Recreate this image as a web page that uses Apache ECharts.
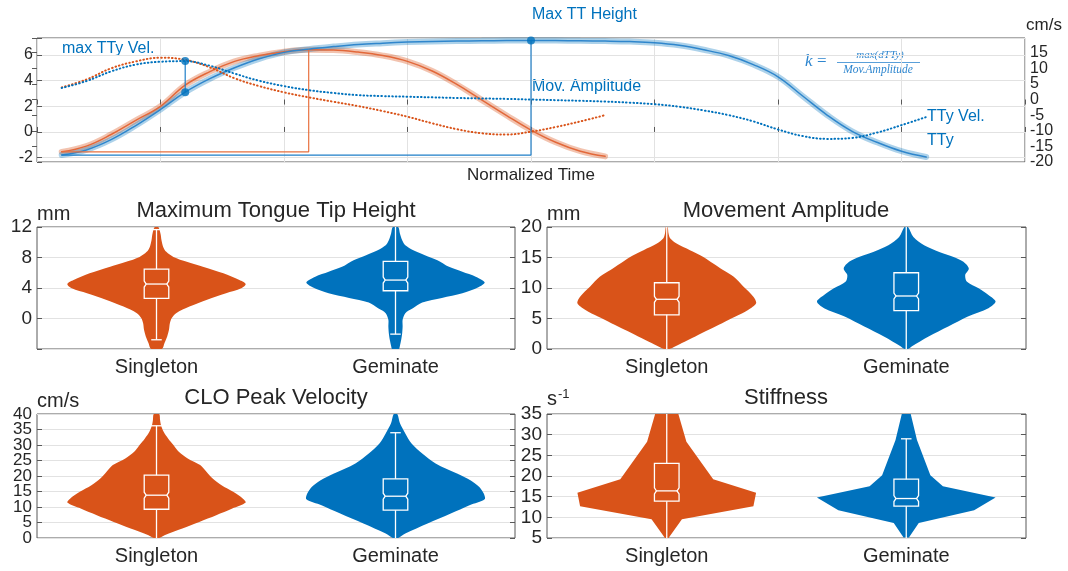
<!DOCTYPE html>
<html>
<head>
<meta charset="utf-8">
<script src="https://cdn.jsdelivr.net/npm/echarts@6/dist/echarts.min.js"></script>
<style>html,body{margin:0;padding:0;background:#fff}#c{width:1068px;height:571px}</style>
</head>
<body>
<div id="c"></div>
<script>
// ---------------- DATA ----------------
const categories = ['Singleton', 'Geminate'];

// Top panel: normalized time samples
const timeGeminate = [0.025,0.05,0.075,0.1,0.125,0.15,0.175,0.2,0.225,0.25,0.275,0.3,0.325,0.35,0.375,0.4,0.425,0.45,0.475,0.5,0.525,0.55,0.575,0.6,0.625,0.65,0.675,0.7,0.725,0.75,0.775,0.8,0.825,0.85,0.875,0.9];
const ttyGeminate = [-1.8,-1.4,-0.6,0.5,1.75,3.1,4.15,5.0,5.7,6.2,6.45,6.65,6.82,6.92,7.0,7.05,7.08,7.1,7.12,7.13,7.12,7.1,7.08,7.04,6.95,6.75,6.4,5.95,5.25,4.3,2.8,1.3,0.05,-0.8,-1.5,-1.95];
const velGeminate = [3.7,5.9,9.0,11.2,12.1,12.3,10.8,8.3,6.0,4.3,3.0,2.1,1.4,1.1,0.9,0.7,0.5,0.35,0.2,0.0,-0.2,-0.4,-0.65,-1.0,-1.5,-2.3,-3.5,-5.0,-7.0,-9.6,-11.7,-12.6,-12.3,-10.6,-8.2,-5.6];

const timeSingleton = [0.025,0.05,0.075,0.1,0.125,0.15,0.175,0.2,0.225,0.25,0.275,0.3,0.325,0.35,0.375,0.4,0.425,0.45,0.475,0.5,0.525,0.55,0.575];
const ttySingleton = [-1.55,-1.1,-0.2,0.9,2.0,3.65,4.7,5.5,5.95,6.25,6.4,6.38,6.22,5.95,5.5,4.75,3.7,2.5,1.3,0.15,-0.8,-1.5,-1.9];
const velSingleton = [3.9,6.4,10.0,12.2,13.4,12.7,10.3,6.8,4.3,2.3,0.7,-0.7,-2.1,-3.7,-5.5,-7.6,-9.5,-10.8,-11.2,-10.3,-8.8,-7.0,-5.0];

// Violin profiles: value levels (top -> bottom) and normalized density (max = 1)
const heightSingletonLevels = [12,11.13,10.26,9.39,8.74,8.08,7.43,6.78,5.92,5.04,4.52,3.96,3.31,2.43,1.56,0.69,0.04,-0.61,-1.49,-2.36,-3.22,-4];
const heightSingletonDensity = [0.02,0.045,0.056,0.075,0.11,0.19,0.34,0.52,0.75,0.93,1.0,0.95,0.78,0.56,0.37,0.22,0.17,0.15,0.14,0.12,0.09,0.06];
const heightGeminateLevels = [12,11.13,10.26,9.61,8.96,8.3,7.65,6.78,6.13,5.48,4.74,4.09,3.31,2.7,2.1,1.3,0.7,-0.18,-1.05,-1.92,-2.79,-3.66,-4];
const heightGeminateDensity = [0.03,0.05,0.075,0.11,0.2,0.33,0.47,0.6,0.75,0.9,1.0,0.93,0.75,0.52,0.3,0.19,0.11,0.08,0.08,0.075,0.064,0.048,0.037];

const ampSingletonLevels = [20,18.92,18.1,17.29,16.2,15.1,14.03,12.94,11.85,10.21,8.58,7.5,6.41,5.32,4.24,3.15,2.06,0.98,0.16,0];
const ampSingletonDensity = [0.01,0.02,0.04,0.11,0.26,0.41,0.52,0.63,0.75,0.86,0.97,1.0,0.91,0.77,0.62,0.47,0.32,0.17,0.06,0.03];
const ampGeminateLevels = [20,18.37,17.01,15.92,15.1,14.29,13.2,12.12,11.03,9.95,8.86,7.77,6.69,5.32,3.69,2.06,0.42,0];
const ampGeminateDensity = [0.02,0.08,0.2,0.37,0.53,0.64,0.7,0.66,0.68,0.81,0.92,1.0,0.92,0.69,0.47,0.25,0.06,0.02];

const peakVelSingletonLevels = [40,38.06,36.44,34.28,32.13,29.98,27.82,25.67,23.51,21.36,19.2,17.0,14.9,12.7,11.44,9.5,7.34,5.19,3.03,0.87,0];
const peakVelSingletonDensity = [0.03,0.04,0.05,0.08,0.13,0.19,0.25,0.35,0.49,0.56,0.63,0.73,0.86,0.97,1.0,0.85,0.67,0.48,0.29,0.09,0.03];
const peakVelGeminateLevels = [40,36.98,33.75,30.52,27.29,24.06,20.82,18.66,16.49,14.34,12.5,10.57,7.89,4.65,1.42,0];
const peakVelGeminateDensity = [0.02,0.05,0.11,0.18,0.3,0.45,0.69,0.84,0.94,0.99,1.0,0.83,0.62,0.36,0.11,0.03];

const stiffSingletonLevels = [35,28.29,19.24,15.92,12.69,9.53,5];
const stiffSingletonDensity = [0.13,0.22,0.52,1.0,0.97,0.17,0.02];
const stiffGeminateLevels = [35,28.7,20.2,17.54,14.8,11.72,8.64,5.1];
const stiffGeminateDensity = [0.05,0.12,0.27,0.41,1.0,0.76,0.14,0.03];

// Box stats: [lower whisker, q1, median, q3, upper whisker]
const heightSingletonBox = [-2.79, 2.65, 4.52, 6.48, 11.66];
const heightGeminateBox = [-2.05, 3.64, 5.04, 7.48, 12.5];
const ampSingletonBox = [-0.5, 5.6, 8.15, 10.86, 20.5];
const ampGeminateBox = [-0.5, 6.3, 8.69, 12.5, 20.5];
const peakVelSingletonBox = [-0.5, 9.28, 13.81, 20.27, 36.2];
const peakVelGeminateBox = [-0.5, 8.96, 13.48, 19.08, 33.96];
const stiffSingletonBox = [4.5, 13.9, 16.4, 23.04, 36];
const stiffGeminateBox = [4.5, 12.69, 14.55, 19.24, 29.0];

// ---------------- STYLE / LAYOUT ----------------
const FONT = '"Liberation Sans", Arial, Helvetica, sans-serif';
const SERIF = '"Liberation Serif", "DejaVu Serif", serif';
const TXT = '#262626';
const GRIDC = '#e2e2e2';
const BORDER = '#595959';
const ORANGE = '#D95319', BLUE = '#0072BD';
const TOP_LEFT_RANGE = [-2.34, 7.32];
const TOP_RIGHT_RANGE = [-20, 19.7];
const VIOLIN_HALF = 0.373, BOX_HALF = 0.0514, CAP_HALF = 0.022;
const DOTS = [0.6, 3.0];

const pairs = (t, v) => t.map((x, i) => [x, v[i]]);
const argmax = a => a.reduce((k, v, i) => (v > a[k] ? i : k), 0);
const toLeft = r => TOP_LEFT_RANGE[0] + (r - TOP_RIGHT_RANGE[0]) *
  (TOP_LEFT_RANGE[1] - TOP_LEFT_RANGE[0]) / (TOP_RIGHT_RANGE[1] - TOP_RIGHT_RANGE[0]);

const gMax = argmax(ttyGeminate), sMax = argmax(ttySingleton), vMax = argmax(velGeminate);

function lineSeries(data, yIdx, color, width, type, z) {
  return { type: 'line', xAxisIndex: 0, yAxisIndex: yIdx, data: data, smooth: 0.4,
    symbol: 'none', silent: true, z: z || 2,
    lineStyle: { color: color, width: width, type: type || 'solid', cap: 'round' } };
}
function polyline(data, color, width) {
  return { type: 'line', xAxisIndex: 0, yAxisIndex: 0, data: data, symbol: 'none', silent: true, z: 3,
    lineStyle: { color: color, width: width } };
}
function dot(data, yIdx) {
  return { type: 'scatter', xAxisIndex: 0, yAxisIndex: yIdx, data: data, symbolSize: 8, z: 5,
    itemStyle: { color: BLUE }, silent: true };
}

function violin(g, yIdx, cat, levels, dens, box, color, smooth) {
  return {
    type: 'custom', coordinateSystem: 'cartesian2d', xAxisIndex: g, yAxisIndex: yIdx, clip: true, silent: true,
    data: [[cat, box[2]]],
    renderItem: function (params, api) {
      const band = Math.abs(api.coord([1, levels[0]])[0] - api.coord([0, levels[0]])[0]);
      const hw = VIOLIN_HALF * band, bw = BOX_HALF * band, cw = CAP_HALF * band;
      const cx = api.coord([cat, levels[0]])[0];
      const Y = v => api.coord([cat, v])[1];
      const right = [], left = [];
      levels.forEach((v, i) => { const y = Y(v); right.push([cx + dens[i] * hw, y]); left.unshift([cx - dens[i] * hw, y]); });
      const [wl, q1, md, q3, wh] = box;
      const yq1 = Y(q1), yq3 = Y(q3), ym = Y(md), ywl = Y(wl), ywh = Y(wh);
      const ni = 2, ny = 3, L = cx - bw, R = cx + bw;
      const boxPts = [[L, yq3], [R, yq3], [R, ym - ny], [R - ni, ym], [R, ym + ny], [R, yq1], [L, yq1], [L, ym + ny], [L + ni, ym], [L, ym - ny]];
      const ls = { stroke: '#ffffff', lineWidth: 1.3, fill: null };
      return { type: 'group', children: [
        { type: 'polygon', shape: { points: right.concat(left), smooth: smooth }, style: { fill: color } },
        { type: 'polygon', shape: { points: boxPts }, style: { fill: 'none', stroke: '#ffffff', lineWidth: 1.3 } },
        { type: 'line', shape: { x1: L + ni, y1: ym, x2: R - ni, y2: ym }, style: ls },
        { type: 'line', shape: { x1: cx, y1: yq3, x2: cx, y2: ywh }, style: ls },
        { type: 'line', shape: { x1: cx, y1: yq1, x2: cx, y2: ywl }, style: ls },
        { type: 'line', shape: { x1: cx - cw, y1: ywh, x2: cx + cw, y2: ywh }, style: ls },
        { type: 'line', shape: { x1: cx - cw, y1: ywl, x2: cx + cw, y2: ywl }, style: ls }
      ] };
    }
  };
}

const gridBase = { show: true, borderColor: BORDER, borderWidth: 1, backgroundColor: 'transparent' };
const tickIn = { show: true, inside: true, length: 5, lineStyle: { color: BORDER } };
const split = { show: true, lineStyle: { color: GRIDC, width: 1 } };

function catAxis(g) {
  return { gridIndex: g, type: 'category', data: categories, boundaryGap: true,
    axisLine: { show: false }, axisTick: { show: false }, splitLine: { show: false },
    axisLabel: { fontSize: 20, color: TXT, fontFamily: FONT, margin: 8 } };
}
// opts.only: list of values whose labels are shown (extra label-only axis)
function valAxisLeft(g, min, max, interval, name, fontSize, opts) {
  opts = opts || {};
  const a = { gridIndex: g, type: 'value', position: 'left', offset: 0, min: min, max: max, interval: interval,
    axisLine: { show: false }, axisTick: opts.only ? { show: false } : tickIn,
    splitLine: opts.only ? { show: false } : split,
    axisLabel: { fontSize: fontSize, color: TXT, fontFamily: FONT, margin: 5,
      showMinLabel: opts.showMin === undefined ? true : opts.showMin,
      showMaxLabel: opts.showMax === undefined ? true : opts.showMax,
      formatter: v => {
        if (opts.only) return opts.only.indexOf(v) >= 0 ? String(v) : '';
        return (opts.hideMin && v === min) ? '' : String(v);
      } } };
  if (name) {
    a.name = name; a.nameLocation = 'end'; a.nameGap = 3;
    a.nameTextStyle = { align: 'left', verticalAlign: 'bottom', fontSize: 20, color: TXT, fontFamily: FONT,
      rich: { s: { fontSize: 20, color: TXT, fontFamily: FONT }, sup: { fontSize: 13, color: TXT, fontFamily: FONT, verticalAlign: 'top', padding: [0, 0, 10, 1] } } };
  }
  return a;
}
function valAxisRight(g, min, max, interval) {
  return { gridIndex: g, type: 'value', position: 'right', offset: 0, min: min, max: max, interval: interval,
    axisLine: { show: false }, axisTick: tickIn, splitLine: { show: false }, axisLabel: { show: false } };
}

const option = {
  animation: false,
  backgroundColor: '#ffffff',
  textStyle: { fontFamily: FONT },
  grid: [
    Object.assign({ left: 37, right: 43, top: 38, bottom: 409 }, gridBase),
    Object.assign({ left: 37, right: 553, top: 227, bottom: 222 }, gridBase),
    Object.assign({ left: 547, right: 42, top: 227, bottom: 222 }, gridBase),
    Object.assign({ left: 37, right: 553, top: 414, bottom: 33 }, gridBase),
    Object.assign({ left: 547, right: 42, top: 414, bottom: 33 }, gridBase)
  ],
  xAxis: [
    { gridIndex: 0, type: 'value', min: 0, max: 1, interval: 0.125,
      axisLine: { show: false }, axisTick: tickIn, splitLine: split, axisLabel: { show: false },
      name: 'Normalized Time', nameLocation: 'middle', nameGap: 5,
      nameTextStyle: { fontSize: 17, color: TXT, fontFamily: FONT, verticalAlign: 'top' } },
    catAxis(1), catAxis(2), catAxis(3), catAxis(4),
    { gridIndex: 0, type: 'value', position: 'top', min: 0, max: 1, interval: 0.125,
      axisLine: { show: false }, axisTick: tickIn, splitLine: { show: false }, axisLabel: { show: false } }
  ],
  yAxis: [
    // 0: top left (mm)
    { gridIndex: 0, type: 'value', position: 'left', min: TOP_LEFT_RANGE[0], max: TOP_LEFT_RANGE[1], splitNumber: 5,
      axisLine: { show: false }, axisTick: tickIn, splitLine: split,
      axisLabel: { fontSize: 16, color: TXT, fontFamily: FONT, margin: 4,
        formatter: v => { const r = Math.round(v); return (Math.abs(v - r) < 1e-6 && r % 2 === 0) ? String(r) : ''; } } },
    // 1: top right (cm/s)
    { gridIndex: 0, type: 'value', position: 'right', offset: 0, min: TOP_RIGHT_RANGE[0], max: TOP_RIGHT_RANGE[1], interval: 5,
      axisLine: { show: false }, axisTick: tickIn, splitLine: { show: false },
      axisLabel: { fontSize: 16, color: TXT, fontFamily: FONT, margin: 5, showMinLabel: false,
        formatter: v => (Math.abs(v % 5) < 1e-6 ? String(v) : '') } },
    // 2: top right, label of the minimum only
    { gridIndex: 0, type: 'value', position: 'right', offset: 0, min: TOP_RIGHT_RANGE[0], max: TOP_RIGHT_RANGE[1], interval: 5,
      axisLine: { show: false }, axisTick: { show: false }, splitLine: { show: false },
      axisLabel: { fontSize: 16, color: TXT, fontFamily: FONT, margin: 5, showMinLabel: true, showMaxLabel: false,
        formatter: v => (v === TOP_RIGHT_RANGE[0] ? String(v) : '') } },
    // 3,4: panel A
    valAxisLeft(1, -4, 12, 4, 'mm', 19, { hideMin: true }), valAxisRight(1, -4, 12, 4),
    // 5,6: panel B
    valAxisLeft(2, 0, 20, 5, 'mm', 19), valAxisRight(2, 0, 20, 5),
    // 7,8,9: panel C (inner labels, ticks, extreme labels)
    valAxisLeft(3, 0, 40, 5, 'cm/s', 17, { showMin: false, showMax: false }), valAxisRight(3, 0, 40, 5),
    valAxisLeft(3, 0, 40, 5, null, 17, { only: [0, 40] }),
    // 10,11: panel D
    valAxisLeft(4, 5, 35, 5, '{s|s}{sup|-1}', 19), valAxisRight(4, 5, 35, 5)
  ],
  series: [
    // shaded bands and mean lines
    lineSeries(pairs(timeSingleton, ttySingleton), 0, 'rgba(217,83,25,0.35)', 6, 'solid', 2),
    lineSeries(pairs(timeSingleton, ttySingleton), 0, '#e2683a', 1.5, 'solid', 3),
    lineSeries(pairs(timeGeminate, ttyGeminate), 0, 'rgba(0,114,189,0.32)', 6, 'solid', 2),
    lineSeries(pairs(timeGeminate, ttyGeminate), 0, '#2f86cc', 1.5, 'solid', 3),
    // velocities
    lineSeries(pairs(timeSingleton, velSingleton), 1, ORANGE, 2, DOTS, 4),
    lineSeries(pairs(timeGeminate, velGeminate), 1, BLUE, 2, DOTS, 4),
    // amplitude brackets
    polyline([[timeSingleton[0], ttySingleton[0]], [timeSingleton[sMax], ttySingleton[0]], [timeSingleton[sMax], ttySingleton[sMax]]], '#e8703f', 1.2),
    polyline([[timeGeminate[0], ttyGeminate[0]], [timeGeminate[gMax], ttyGeminate[0]], [timeGeminate[gMax], ttyGeminate[gMax]]], '#1f7fc8', 1.2),
    // max velocity marker
    polyline([[timeGeminate[vMax], ttyGeminate[vMax]], [timeGeminate[vMax], toLeft(velGeminate[vMax])]], '#1f7fc8', 1.2),
    dot([[timeGeminate[vMax], ttyGeminate[vMax]], [timeGeminate[gMax], ttyGeminate[gMax]]], 0),
    dot([[timeGeminate[vMax], velGeminate[vMax]]], 1),
    // violins
    violin(1, 3, 0, heightSingletonLevels, heightSingletonDensity, heightSingletonBox, ORANGE, 0.3),
    violin(1, 3, 1, heightGeminateLevels, heightGeminateDensity, heightGeminateBox, BLUE, 0.3),
    violin(2, 5, 0, ampSingletonLevels, ampSingletonDensity, ampSingletonBox, ORANGE, 0.3),
    violin(2, 5, 1, ampGeminateLevels, ampGeminateDensity, ampGeminateBox, BLUE, 0.3),
    violin(3, 7, 0, peakVelSingletonLevels, peakVelSingletonDensity, peakVelSingletonBox, ORANGE, 0.3),
    violin(3, 7, 1, peakVelGeminateLevels, peakVelGeminateDensity, peakVelGeminateBox, BLUE, 0.3),
    violin(4, 10, 0, stiffSingletonLevels, stiffSingletonDensity, stiffSingletonBox, ORANGE, 0),
    violin(4, 10, 1, stiffGeminateLevels, stiffGeminateDensity, stiffGeminateBox, BLUE, 0)
  ],
  graphic: [
    { type: 'text', x: 1026, y: 25, style: { text: 'cm/s', font: '17px ' + FONT, fill: TXT, textAlign: 'left', textVerticalAlign: 'middle' } },
    { type: 'text', x: 532, y: 15, style: { text: 'Max TT Height', font: '16px ' + FONT, fill: BLUE, textAlign: 'left', textVerticalAlign: 'middle' } },
    { type: 'text', x: 532, y: 87, style: { text: 'Mov. Amplitude', font: '16px ' + FONT, fill: BLUE, textAlign: 'left', textVerticalAlign: 'middle' } },
    { type: 'text', x: 62, y: 49, style: { text: 'max TTy Vel.', font: '16px ' + FONT, fill: BLUE, textAlign: 'left', textVerticalAlign: 'middle' } },
    { type: 'text', x: 927, y: 117, style: { text: 'TTy Vel.', font: '16px ' + FONT, fill: BLUE, textAlign: 'left', textVerticalAlign: 'middle' } },
    { type: 'text', x: 927, y: 141, style: { text: 'TTy', font: '16px ' + FONT, fill: BLUE, textAlign: 'left', textVerticalAlign: 'middle' } },
    { type: 'text', x: 805, y: 62, style: { text: 'k', font: 'italic 17px ' + SERIF, fill: '#2e86cf', textAlign: 'left', textVerticalAlign: 'middle' } },
    { type: 'text', x: 817, y: 62, style: { text: '=', font: '17px ' + SERIF, fill: '#2e86cf', textAlign: 'left', textVerticalAlign: 'middle' } },
    { type: 'text', x: 880, y: 55, style: { text: 'max(dTTy)', font: 'italic 11px ' + SERIF, fill: '#2e86cf', textAlign: 'center', textVerticalAlign: 'middle' } },
    { type: 'line', shape: { x1: 837, y1: 62.5, x2: 920, y2: 62.5 }, style: { stroke: '#2e86cf', lineWidth: 0.8 } },
    { type: 'text', x: 878, y: 69.5, style: { text: 'Mov.Amplitude', font: 'italic 11.5px ' + SERIF, fill: '#2e86cf', textAlign: 'center', textVerticalAlign: 'middle' } },
    { type: 'text', x: 276, y: 211, style: { text: 'Maximum Tongue Tip Height', font: '22px ' + FONT, fill: TXT, textAlign: 'center', textVerticalAlign: 'middle' } },
    { type: 'text', x: 786, y: 211, style: { text: 'Movement Amplitude', font: '22px ' + FONT, fill: TXT, textAlign: 'center', textVerticalAlign: 'middle' } },
    { type: 'text', x: 276, y: 398, style: { text: 'CLO Peak Velocity', font: '22px ' + FONT, fill: TXT, textAlign: 'center', textVerticalAlign: 'middle' } },
    { type: 'text', x: 786, y: 398, style: { text: 'Stiffness', font: '22px ' + FONT, fill: TXT, textAlign: 'center', textVerticalAlign: 'middle' } }
  ]
};

const chart = echarts.init(document.getElementById('c'), null, { renderer: 'canvas' });
chart.setOption(option);
</script>
</body>
</html>
